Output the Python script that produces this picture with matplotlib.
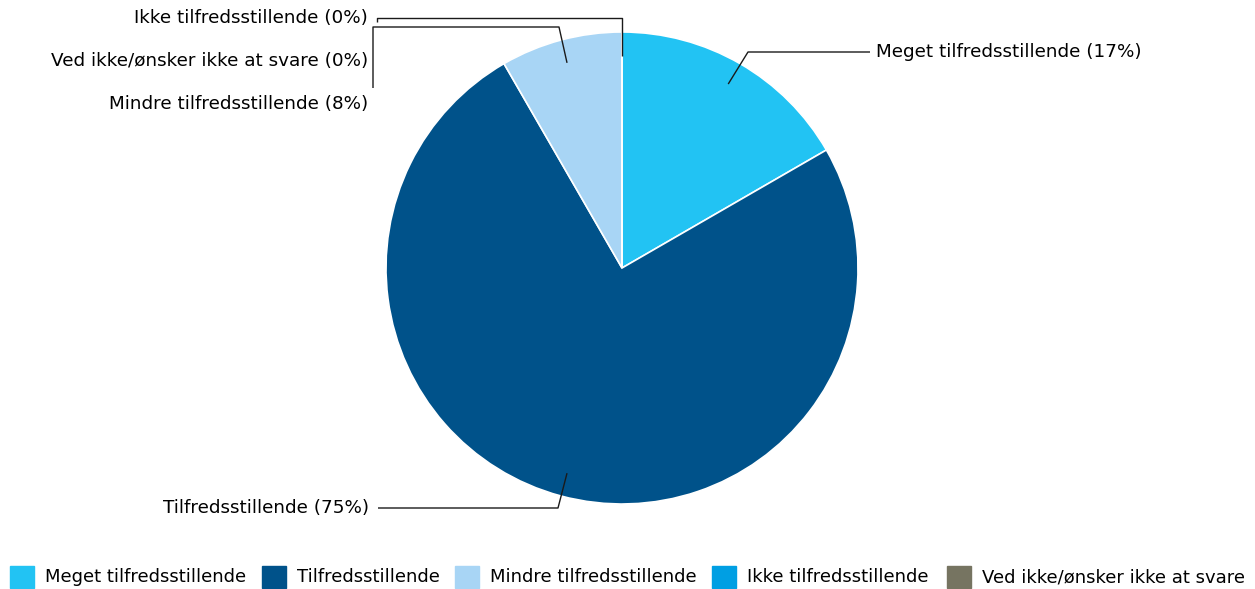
import matplotlib
matplotlib.use("Agg")
import matplotlib.pyplot as plt
from matplotlib.patches import Rectangle
import numpy as np

categories = ["Meget tilfredsstillende", "Tilfredsstillende", "Mindre tilfredsstillende",
              "Ikke tilfredsstillende", "Ved ikke/ønsker ikke at svare"]
counts = [2, 9, 1, 0, 0]
percent_labels = ["17%", "75%", "8%", "0%", "0%"]
colors = ["#22C3F3", "#00528A", "#A8D5F5", "#009FE3", "#767461"]

W, H = 1255, 589
fig = plt.figure(figsize=(W / 100, H / 100), dpi=100)
cx, cy, R = 622, 268, 236
ax = fig.add_axes([(cx - R) / W, (H - cy - R) / H, 2 * R / W, 2 * R / H])
wedges, _ = ax.pie(counts, colors=colors, startangle=90, counterclock=False,
                   wedgeprops=dict(edgecolor="white", linewidth=1.2), radius=1)
ax.set_xlim(-1, 1)
ax.set_ylim(-1, 1)
ax.set_aspect("equal")
ax.axis("off")

def p(px, py):
    return ((px - cx) / R, (cy - py) / R)

def anchor(w, r=0.9):
    a = np.deg2rad((w.theta1 + w.theta2) / 2)
    return (r * np.cos(a), r * np.sin(a))

FS = 13.2
LFS = 13
lc = "#1a1a1a"

def leader(pts):
    xs = [q[0] for q in pts]
    ys = [q[1] for q in pts]
    ax.plot(xs, ys, color=lc, lw=1, clip_on=False, solid_capstyle="butt")

def lab(i, px, py, ha):
    x, y = p(px, py)
    ax.text(x, y, f"{categories[i]} ({percent_labels[i]})", ha=ha, va="center",
            fontsize=FS, color="black", clip_on=False)

# Meget
leader([anchor(wedges[0]), p(748, 52), p(870, 52)])
lab(0, 876, 52, "left")
# Tilfreds
leader([anchor(wedges[1]), p(558, 508), p(378, 508)])
lab(1, 369, 508, "right")
# Mindre
leader([anchor(wedges[2]), p(559, 27), p(373, 27), p(373, 88)])
lab(2, 368, 104, "right")
# Ikke
leader([anchor(wedges[3]), p(622, 18), p(377, 18), p(377, 22)])
lab(3, 368, 18, "right")
# Ved
lab(4, 368, 61, "right")

# Legend
sq_x = [10, 262, 455, 712, 947]
for i, c in enumerate(colors):
    fig.patches.append(Rectangle((sq_x[i] / W, (H - 588) / H), 24 / W, 22 / H,
                                 transform=fig.transFigure, color=c))
    fig.text((sq_x[i] + 35) / W, (H - 577) / H, categories[i], ha="left", va="center",
             fontsize=LFS, color="black")

fig.savefig("out.png", dpi=100, facecolor="white")
